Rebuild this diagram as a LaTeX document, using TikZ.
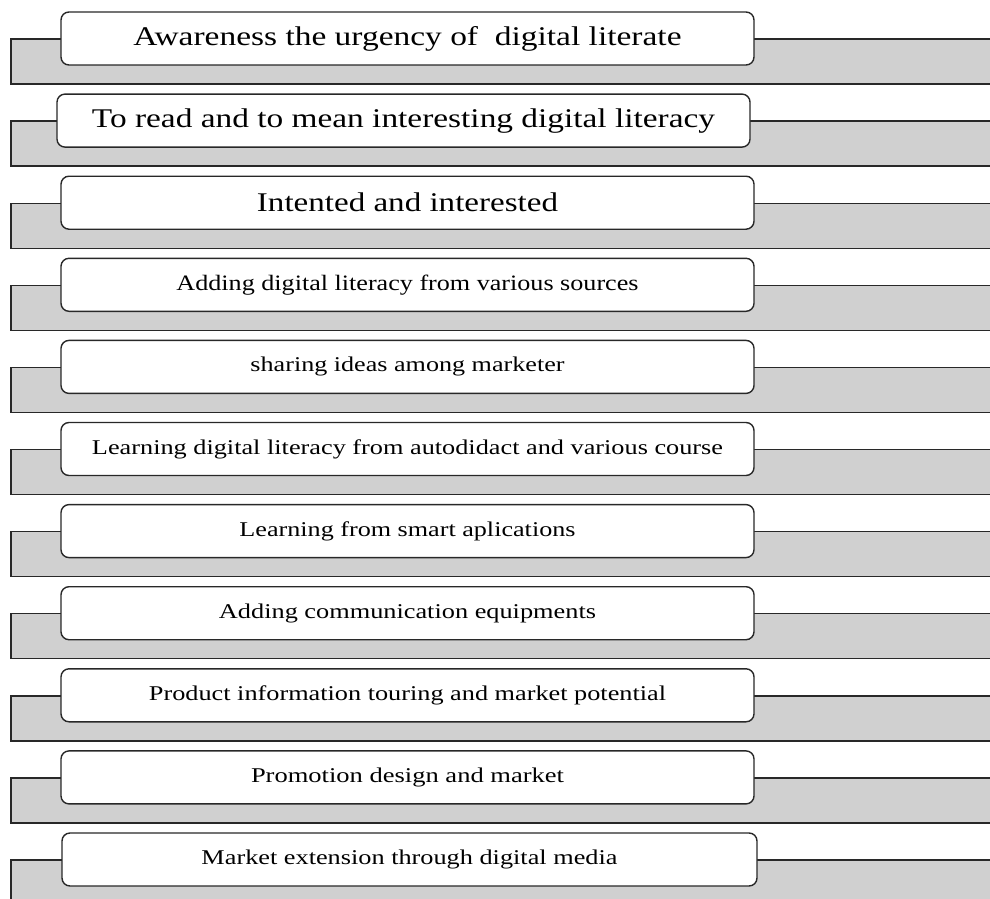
\documentclass[tikz,border=0pt]{standalone}
\usepackage{fontspec}
\setmainfont{Liberation Serif}
\usepackage{graphicx}

% text at a given size, widened to a given width
\newcommand\stretchtext[3]{\resizebox{#1pt}{\height}{\fontsize{#2pt}{#2pt}\selectfont #3}}

\definecolor{bandgray}{RGB}{208,208,208}
\definecolor{linegray}{RGB}{40,40,40}

\tikzset{
  band/.style={fill=bandgray},
  bandedge/.style={draw=linegray, line width=1.4pt},
  stepbox/.style={draw=linegray, line width=1.4pt, fill=white,
    rounded corners=8pt, minimum height=53pt, inner sep=0pt},
}

\begin{document}
\begin{tikzpicture}[x=1pt,y=-1pt]
\useasboundingbox (0,0) rectangle (990,899);
\clip (0,0) rectangle (990,899);

\foreach \i/\xl/\xr/\w/\s/\txt in {
  1/61/754/548/27/Awareness the urgency of~ digital literate,
  2/57/750/623/27/To read and to mean interesting digital literacy,
  3/61/754/301/27/Intented and interested,
  4/61/754/462/22/Adding digital literacy from various sources,
  5/61/754/314/21/sharing ideas among marketer,
  6/61/754/631/21/Learning digital literacy from autodidact and various course,
  7/61/754/336/21/Learning from smart aplications,
  8/61/754/377/21/Adding communication equipments,
  9/61/754/517/21/Product information touring and market potential,
  10/61/754/313/21/Promotion design and market,
  11/62/757/416/21/Market extension through digital media}
{
  \pgfmathsetmacro\T{39+82.1*(\i-1)}
  % grey band behind the step
  \fill[band] (11,\T) rectangle (1000,\T+45);
  \draw[bandedge] (1000,\T) -- (11,\T) -- (11,\T+45) -- (1000,\T+45);
  % the step itself
  \node[stepbox, minimum width={(\xr-\xl)*1pt}] (box\i)
    at ({(\xl+\xr)/2},\T-0.5) {\stretchtext{\w}{\s}{\txt}};
}
\end{tikzpicture}
\end{document}
